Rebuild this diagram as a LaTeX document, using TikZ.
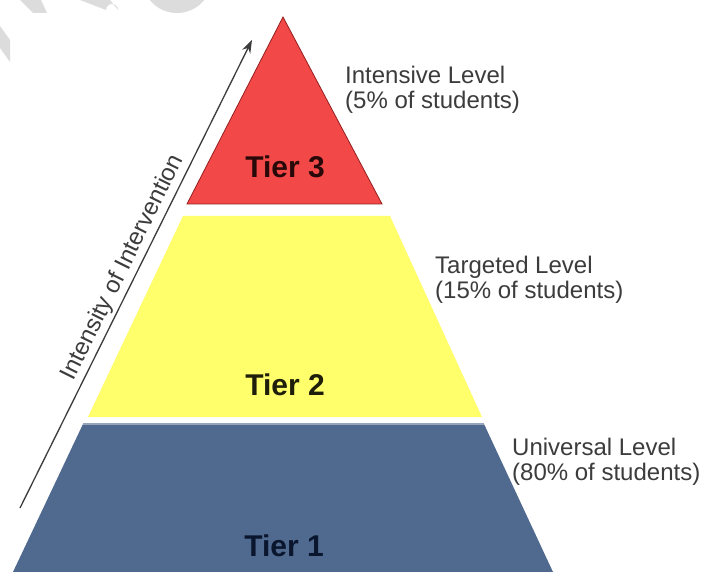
\documentclass[tikz,border=0pt]{standalone}
\usepackage{fontspec}
\setmainfont{Liberation Sans}
\usetikzlibrary{arrows.meta}
\definecolor{tierred}{RGB}{242,72,72}
\definecolor{tierredline}{RGB}{150,30,30}
\definecolor{tieryellow}{RGB}{255,255,108}
\definecolor{tierblue}{RGB}{80,106,143}
\definecolor{tierblueline}{RGB}{150,165,185}
\definecolor{labelgray}{RGB}{60,60,60}
\definecolor{wmgray}{RGB}{220,220,220}
\tikzset{
  levellabel/.style={anchor=north west, inner sep=0pt, align=left,
    text=labelgray, font=\fontsize{24}{25}\selectfont},
  tierlabel/.style={inner sep=0pt, font=\fontsize{30}{32}\selectfont\bfseries},
  watermark/.style={fill=wmgray, draw=none}
}
\begin{document}
\begin{tikzpicture}[x=1pt,y=-1pt]
\useasboundingbox (0,0) rectangle (705,572);
\fill[white] (0,0) rectangle (705,572);
% watermark fragments
\fill[watermark] (20,0) -- (41,0) -- (47,13) -- (33,13) -- cycle;
\fill[watermark] (80,0) -- (110,0) -- (118,10) arc (0:-180:6) -- cycle;
\begin{scope}
\clip (0,0) rectangle (705,13);
\fill[watermark] (177,-22) circle (35);
\end{scope}
\fill[watermark] (0,26) -- (10,40) -- (10,62) -- (0,48) -- cycle;
% pyramid corners
\coordinate (apex) at (283,17);
\coordinate (rbl) at (187,204);
\coordinate (rbr) at (382,204);
\coordinate (ytl) at (183,216);
\coordinate (ytr) at (390,216);
\coordinate (ybl) at (88,417);
\coordinate (ybr) at (482,417);
\coordinate (btl) at (83,424);
\coordinate (btr) at (484,424);
\coordinate (bbl) at (13,572);
\coordinate (bbr) at (553,572);
% tiers
\fill[tierblue] (btl) -- (btr) -- (bbr) -- (bbl) -- cycle;
\draw[tierblueline, line width=1.5pt] (btl) -- (btr);
\fill[tieryellow] (ytl) -- (ytr) -- (ybr) -- (ybl) -- cycle;
\filldraw[fill=tierred, draw=tierredline, line width=0.8pt, line join=miter] (apex) -- (rbr) -- (rbl) -- cycle;
% tier labels
\node[tierlabel, text={rgb,255:red,40;green,8;blue,8}] (t3) at (285,167) {Tier 3};
\node[tierlabel, text={rgb,255:red,30;green,30;blue,10}] (t2) at (285,385) {Tier 2};
\node[tierlabel, text={rgb,255:red,10;green,22;blue,45}] (t1) at (284,546) {Tier 1};
% level labels
\node[levellabel] (l3) at (345,66) {Intensive Level\\(5\% of students)};
\node[levellabel] (l2) at (435,256) {Targeted Level\\(15\% of students)};
\node[levellabel] (l1) at (512,438) {Universal Level\\(80\% of students)};
% intensity arrow
\coordinate (atail) at (20,508);
\coordinate (ahead) at (252,40);
\draw[labelgray, line width=1.3pt, -{Stealth[length=13pt,width=9pt]}] (atail) -- (ahead)
  node[pos=0.5, sloped, above, inner sep=2.5pt, text=labelgray, font=\fontsize{24}{26}\selectfont] (alabel) {Intensity of Intervention};
\end{tikzpicture}
\end{document}
